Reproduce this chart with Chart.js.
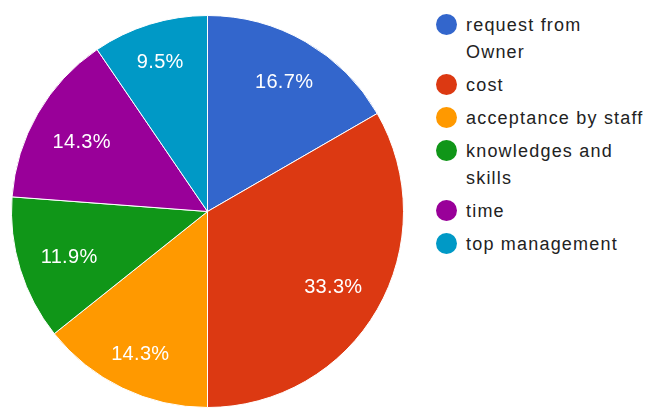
<!DOCTYPE html>
<html>
<head>
<meta charset="utf-8">
<script src="https://cdn.jsdelivr.net/npm/chart.js@4.4.1/dist/chart.umd.min.js"></script>
<style>
    html, body { margin: 0; padding: 0; background: #fff; }
    #wrap { position: relative; width: 645px; height: 410px; overflow: hidden; }
    #pieBox { position: absolute; left: 11px; top: 15px; width: 393px; height: 393px; }
    #legend { position: absolute; left: 436px; top: 12px; margin: 0; padding: 0; list-style: none;
              font-family: "Liberation Sans", Arial, sans-serif; font-size: 18px; color: #222; letter-spacing: 1.2px; }
    #legend li { position: relative; padding-left: 30px; line-height: 27px; margin-bottom: 6px; width: 178px; }
    #legend li span.dot { position: absolute; left: 0; top: 2px; width: 21px; height: 21px; border-radius: 50%; }
</style>
</head>
<body>
<div id="wrap">
    <div id="pieBox"><canvas id="chart"></canvas></div>
    <ul id="legend"></ul>
</div>
<script>
var categories = ['request from Owner', 'cost', 'acceptance by staff', 'knowledges and skills', 'time', 'top management'];
var answers = [7, 14, 6, 5, 6, 4];
var colors = ['#3366cc', '#dc3912', '#ff9900', '#109618', '#990099', '#0099c6'];

// legend on the right, built from the same arrays
var legend = document.getElementById('legend');
categories.forEach(function (name, i) {
    var li = document.createElement('li');
    var dot = document.createElement('span');
    dot.className = 'dot';
    dot.style.background = colors[i];
    li.appendChild(dot);
    li.appendChild(document.createTextNode(name));
    legend.appendChild(li);
});

// percent text inside every slice; the text box is pushed outwards
// until its outer corner sits at a fixed share of the radius
var sliceLabels = {
    id: 'sliceLabels',
    afterDatasetsDraw: function (chart) {
        var ctx = chart.ctx;
        var data = chart.data.datasets[0].data;
        var total = data.reduce(function (a, b) { return a + b; }, 0);
        var size = 20;
        ctx.save();
        ctx.fillStyle = '#fff';
        ctx.font = size + 'px "Liberation Sans", Arial, sans-serif';
        ctx.letterSpacing = '0.3px';
        ctx.textAlign = 'center';
        ctx.textBaseline = 'alphabetic';
        chart.getDatasetMeta(0).data.forEach(function (arc, i) {
            var p = arc.getProps(['x', 'y', 'startAngle', 'endAngle', 'outerRadius']);
            var mid = (p.startAngle + p.endAngle) / 2;
            var ux = Math.cos(mid), uy = Math.sin(mid);
            var txt = (data[i] / total * 100).toFixed(1) + '%';
            var hw = ctx.measureText(txt).width / 2;
            var hh = size * 0.36;
            var r = p.outerRadius * 0.888 - (Math.abs(ux) * hw + Math.abs(uy) * hh);
            // baseline sits a bit under the digit middle
            ctx.fillText(txt, p.x + ux * r, p.y + uy * r + size * 0.36 + 2);
        });
        ctx.restore();
    }
};

var ctx = document.getElementById('chart').getContext('2d');
var chart = new Chart(ctx, {
    type: 'pie',
    data: {
        labels: categories,
        datasets: [{
            data: answers,
            backgroundColor: colors,
            borderColor: '#fff',
            borderWidth: 1
        }]
    },
    options: {
        responsive: true,
        maintainAspectRatio: false,
        animation: false,
        layout: { padding: 0 },
        plugins: {
            legend: { display: false },
            tooltip: { enabled: false }
        }
    },
    plugins: [sliceLabels]
});
</script>
</body>
</html>
